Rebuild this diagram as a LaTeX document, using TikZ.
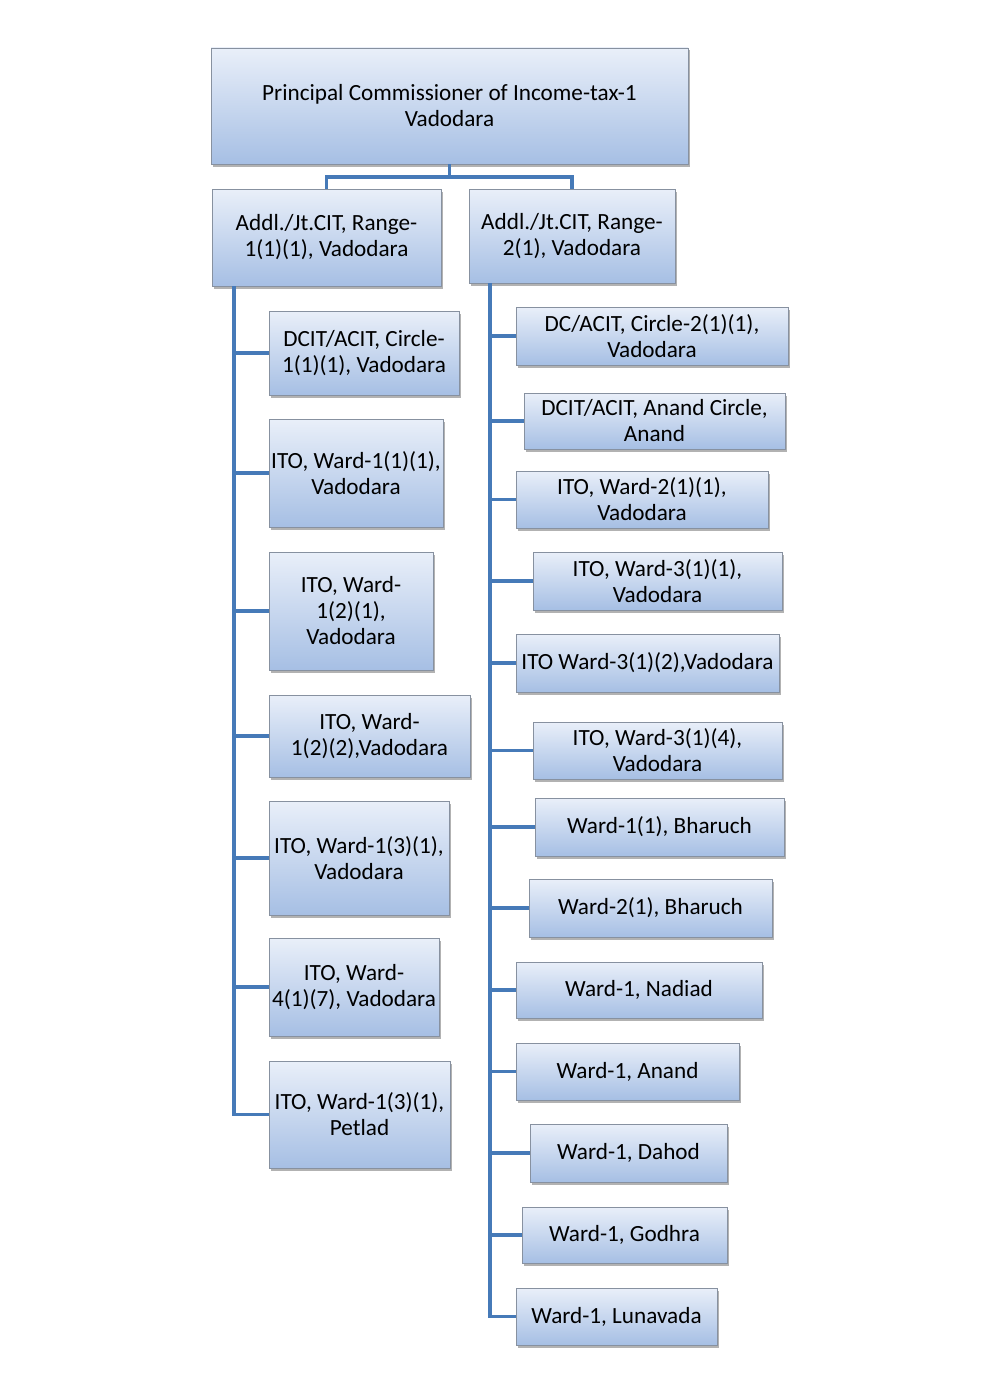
\documentclass[tikz,border=0pt]{standalone}
\usepackage{fontspec}
\setmainfont{Carlito}
\usetikzlibrary{shadows}
\definecolor{boxtop}{RGB}{233,239,249}
\definecolor{boxbot}{RGB}{166,191,228}
\definecolor{boxline}{RGB}{135,145,160}
\definecolor{conncol}{RGB}{70,122,184}
\tikzset{
  orgbox/.style={draw=boxline, line width=0.8pt, top color=boxtop, bottom color=boxbot,
    align=center, inner sep=0pt, font=\fontsize{23.2}{26}\selectfont,
    drop shadow={shadow xshift=2pt, shadow yshift=-2.5pt, opacity=0.3, fill=black}},
  conn/.style={draw=conncol, line width=3.6pt}
}
\newcommand\obox[6]{\node[orgbox, minimum width={(#4-#2)*1pt}, minimum height={(#5-#3)*1pt}] (#1) at ({(#2+#4)/2},{(#3+#5)/2}) {#6};}
\begin{document}
\begin{tikzpicture}[x=1pt,y=-1pt]
\useasboundingbox (0,0) rectangle (993,1397);
% top and ranges
\obox{top}{211}{48}{688}{164}{Principal Commissioner of Income-tax-1\\Vadodara}
\obox{r1}{212}{189}{441}{286}{Addl./Jt.CIT, Range-\\1(1)(1), Vadodara}
\obox{r2}{469}{189}{675}{283}{Addl./Jt.CIT, Range-\\2(1), Vadodara}
% left column
\obox{c1}{269}{311}{459}{395}{DCIT/ACIT, Circle-\\1(1)(1), Vadodara}
\obox{c2}{269}{419}{443}{527}{ITO, Ward-1(1)(1),\\Vadodara}
\obox{c3}{269}{552}{433}{670}{ITO, Ward-\\1(2)(1),\\Vadodara}
\obox{c4}{269}{695}{470}{777}{ITO, Ward-\\1(2)(2),Vadodara}
\obox{c5}{269}{801}{449}{915}{ITO, Ward-1(3)(1),\\Vadodara}
\obox{c6}{269}{938}{439}{1036}{ITO, Ward-\\4(1)(7), Vadodara}
\obox{c7}{269}{1061}{450}{1168}{ITO, Ward-1(3)(1),\\Petlad}
% right column
\obox{d1}{516}{307}{788}{365}{DC/ACIT, Circle-2(1)(1),\\Vadodara}
\obox{d2}{524}{393}{785}{449}{DCIT/ACIT, Anand Circle,\\Anand}
\obox{d3}{516}{471}{768}{528}{ITO, Ward-2(1)(1),\\Vadodara}
\obox{d4}{533}{552}{782}{610}{ITO, Ward-3(1)(1),\\Vadodara}
\obox{d5}{516}{634}{779}{692}{ITO Ward-3(1)(2),Vadodara}
\obox{d6}{533}{722}{782}{779}{ITO, Ward-3(1)(4),\\Vadodara}
\obox{d7}{535}{798}{784}{856}{Ward-1(1), Bharuch}
\obox{d8}{529}{879}{772}{937}{Ward-2(1), Bharuch}
\obox{d9}{516}{962}{762}{1018}{Ward-1, Nadiad}
\obox{d10}{516}{1043}{739}{1100}{Ward-1, Anand}
\obox{d11}{530}{1124}{727}{1182}{Ward-1, Dahod}
\obox{d12}{522}{1207}{727}{1263}{Ward-1, Godhra}
\obox{d13}{516}{1288}{717}{1345}{Ward-1, Lunavada}
% connectors
\coordinate (hb) at (449,177);
\coordinate (tL) at (234,0);
\coordinate (tR) at (490,0);
\draw[conn] (top.south) -- (top.south |- hb);
\draw[conn] (r1.north) |- (hb) -| (r2.north);
\draw[conn] (r1.south -| tL) |- (c7.west);
\foreach \n in {c1,c2,c3,c4,c5,c6}{\draw[conn] (tL |- \n.west) -- (\n.west);}
\draw[conn] (r2.south -| tR) |- (d13.west);
\foreach \n in {d1,d2,d3,d4,d5,d6,d7,d8,d9,d10,d11,d12}{\draw[conn] (tR |- \n.west) -- (\n.west);}
\end{tikzpicture}
\end{document}
